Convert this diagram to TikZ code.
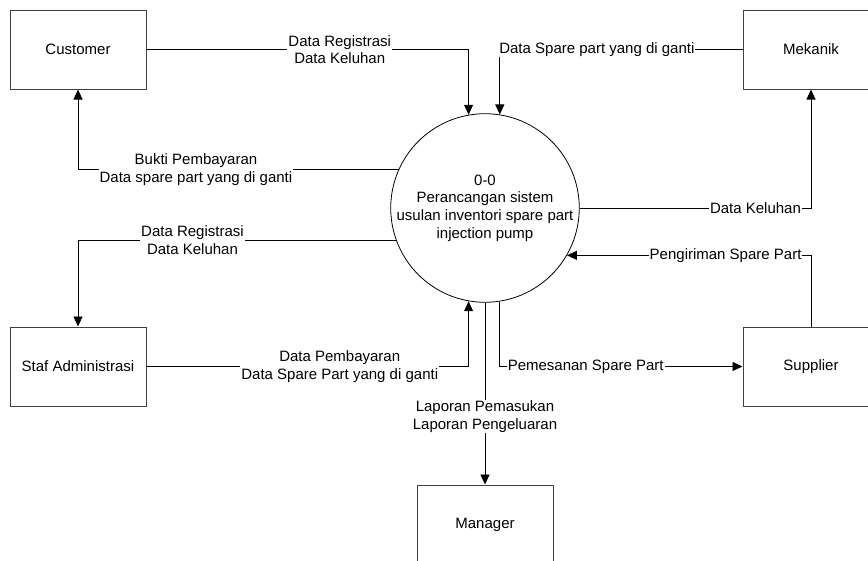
\documentclass[tikz,border=0pt]{standalone}
\usepackage{fontspec}
\setmainfont{Liberation Sans}
\usepackage{tikz}
\usepackage{xcolor}
\usetikzlibrary{arrows.meta, shapes, positioning, calc}

\begin{document}
\begin{tikzpicture}[
  x=1pt, y=-1pt,
  every node/.style={font=\fontsize{15}{17.6}\selectfont},
  entity/.style={draw=black!75, line width=1pt, minimum width=136pt,
                 minimum height=79pt, inner sep=0pt},
  process/.style={draw, circle, line width=0.8pt, minimum size=186pt,
                  inner sep=0pt, align=center},
  flow/.style={draw, line width=0.9pt, -{Triangle[length=10pt, width=9pt]}},
  lbl/.style={fill=white, inner sep=1pt, align=center},
]
\clip (0,0) rectangle (868,560);

\node[entity] (cust) at (78,49.5) {Customer};
\node[entity] (mek) at (811,49.5) {Mekanik};
\node[entity] (staf) at (78,366.5) {Staf Administrasi};
\node[entity] (sup) at (811,366.5) {Supplier};
\node[entity] (mgr) at (485,524.5) {Manager};
\node[process] (proc) at (485,208) {0-0\\Perancangan sistem\\usulan inventori spare part\\injection pump};

\draw[flow] (cust.east) -| node[lbl, pos=0.30] {Data Registrasi\\Data Keluhan} (proc.100);
\draw[flow] (mek.west) -| node[lbl, pos=0.30] {Data Spare part yang di ganti} (proc.81);
\draw[flow] (proc.156) -| node[lbl, pos=0.316] {Bukti Pembayaran\\Data spare part yang di ganti} (cust.south);
\draw[flow] (proc.200) -| node[lbl, pos=0.32] {Data Registrasi\\Data Keluhan} (staf.north);
\draw[flow] (staf.east) -| node[lbl, pos=0.30] {Data Pembayaran\\Data Spare Part yang di ganti} (proc.260);
\draw[flow] (proc.south) -- node[lbl, pos=0.625] {Laporan Pemasukan\\Laporan Pengeluaran} (mgr.north);
\draw[flow] (proc.279) |- node[lbl, pos=0.677] {Pemesanan Spare Part} (sup.west);
\draw[flow] (proc.east) -| node[lbl, pos=0.38] {Data Keluhan} (mek.south);
\draw[flow] (sup.north) |- node[lbl, pos=0.675] {Pengiriman Spare Part} (proc.-30);
\end{tikzpicture}
\end{document}
